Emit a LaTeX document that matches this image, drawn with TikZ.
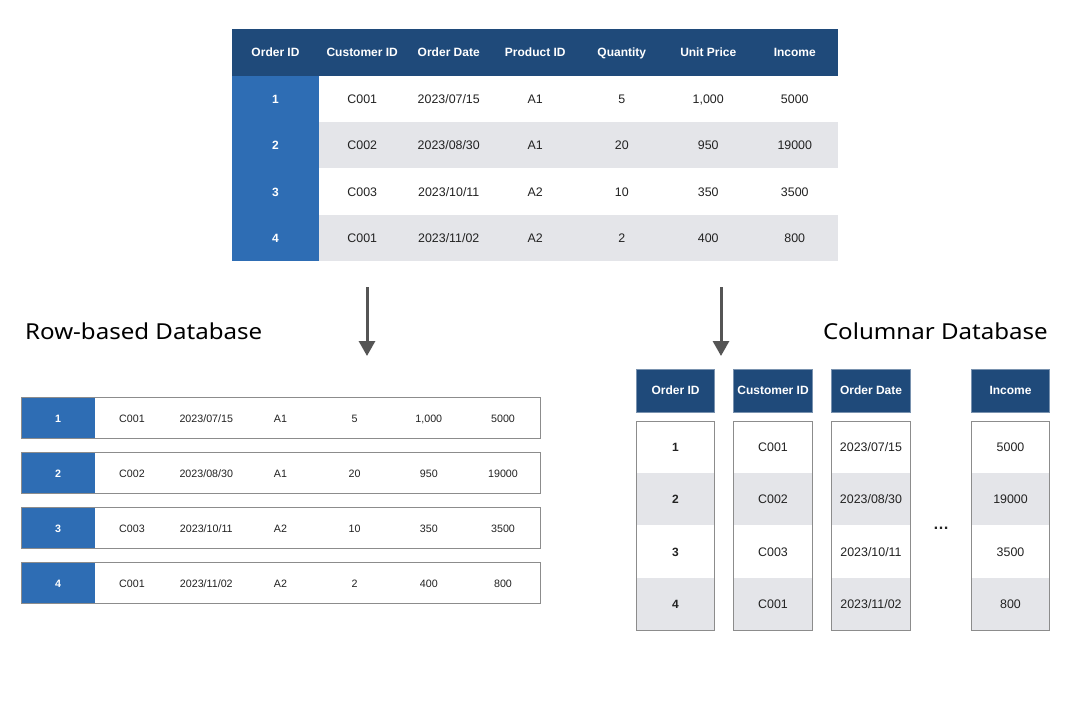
\documentclass[tikz,border=0pt]{standalone}
\usepackage{fontspec}
\setmainfont{Liberation Sans}
\newfontfamily\titlefont[FakeStretch=1.095]{Noto Sans}
\usetikzlibrary{arrows.meta}
\definecolor{hdr}{HTML}{1F4A7A}
\definecolor{idb}{HTML}{2E6DB4}
\definecolor{alt}{HTML}{E4E5E9}
\definecolor{txt}{HTML}{222222}
\definecolor{arrowc}{HTML}{555555}
\definecolor{bordc}{HTML}{8C8C8C}
\tikzset{
  fixh/.style={text height=8.8pt, text depth=0pt},
  cell/.style={minimum width=86.5pt, minimum height=46.25pt, inner sep=0pt, outer sep=0pt, text=txt, font=\fontsize{12.4}{14}\selectfont},
  hcell/.style={cell, minimum height=47pt, fill=hdr, text=white, font=\bfseries\fontsize{12}{14}\selectfont},
  idcell/.style={cell, fill=idb, text=white, font=\bfseries\fontsize{12}{14}\selectfont},
  ctext/.style={inner sep=0pt, text=txt, fixh, anchor=center},
  rbox/.style={draw=bordc, line width=0.9pt, minimum width=519pt, minimum height=41pt, inner sep=0pt, outer sep=0pt, fill=white},
  rid/.style={fill=idb, minimum width=74pt, minimum height=41pt, inner sep=0pt, outer sep=0pt},
  chdr/.style={fill=hdr, draw=hdr!60!white, line width=0.6pt, minimum width=78.5pt, minimum height=43pt, inner sep=0pt, outer sep=0pt},
  ccell/.style={minimum width=78.5pt, minimum height=52.25pt, inner sep=0pt, outer sep=0pt},
  cbox/.style={draw=bordc, line width=0.9pt, minimum width=78.5pt, minimum height=209pt, inner sep=0pt, outer sep=0pt},
  title/.style={inner sep=0pt, text=black, font=\titlefont\fontsize{22}{26}\selectfont},
  arr/.style={draw=arrowc, line width=3pt, -{Triangle[length=15pt,width=16pt]}},
  wb/.style={text=white, font=\bfseries\fontsize{12}{14}\selectfont},
  wbs/.style={text=white, font=\bfseries\fontsize{10.7}{12}\selectfont, text height=7.8pt},
  dt/.style={font=\fontsize{12.4}{14}\selectfont},
  dts/.style={font=\fontsize{10.7}{12}\selectfont, text height=7.8pt},
  db/.style={font=\bfseries\fontsize{12}{14}\selectfont},
}
% top table row: #1 id, #2 y, #3 fill, #4..#9 values
\newcommand\toprow[9]{%
  \node[idcell] (t#1c1) at (275.5,#2) {};
  \node[cell, fill=#3] (t#1c2) at (362.25,#2) {};
  \node[cell, fill=#3] (t#1c3) at (448.75,#2) {};
  \node[cell, fill=#3] (t#1c4) at (535.25,#2) {};
  \node[cell, fill=#3] (t#1c5) at (621.75,#2) {};
  \node[cell, fill=#3] (t#1c6) at (708.25,#2) {};
  \node[cell, fill=#3] (t#1c7) at (794.75,#2) {};
  \node[ctext, wb] at (t#1c1) {#1};
  \node[ctext, dt] at (t#1c2) {#4};
  \node[ctext, dt] at (t#1c3) {#5};
  \node[ctext, dt] at (t#1c4) {#6};
  \node[ctext, dt] at (t#1c5) {#7};
  \node[ctext, dt] at (t#1c6) {#8};
  \node[ctext, dt] at (t#1c7) {#9};
}
% row-based row: #1 id, #2 y, #3..#8 values
\newcommand\rbrow[8]{%
  \node[rbox] (r#1) at (280.5,#2) {};
  \node[rid] (r#1c1) at (58,#2) {};
  \node[ctext, wbs] at ([yshift=-1pt]r#1c1.center) {#1};
  \node[ctext, dts] (r#1c2) at (132,#2+1) {#3};
  \node[ctext, dts] (r#1c3) at (206.3,#2+1) {#4};
  \node[ctext, dts] (r#1c4) at (280.5,#2+1) {#5};
  \node[ctext, dts] (r#1c5) at (354.6,#2+1) {#6};
  \node[ctext, dts] (r#1c6) at (428.8,#2+1) {#7};
  \node[ctext, dts] (r#1c7) at (503,#2+1) {#8};
  \draw[draw=bordc, line width=0.9pt] (r#1.north west) rectangle (r#1.south east);
}
\begin{document}
\begin{tikzpicture}[x=1pt,y=-1pt]
\useasboundingbox[fill=white] (0,0) rectangle (1070,704);

% ---------- top table ----------
\node[hcell, minimum width=87pt] (h1) at (275.5,52.5) {};
\node[hcell] (h2) at (362.25,52.5) {};
\node[hcell] (h3) at (448.75,52.5) {};
\node[hcell] (h4) at (535.25,52.5) {};
\node[hcell] (h5) at (621.75,52.5) {};
\node[hcell] (h6) at (708.25,52.5) {};
\node[hcell] (h7) at (794.75,52.5) {};
\node[ctext, wb] at (h1) {Order ID};
\node[ctext, wb] at (h2) {Customer ID};
\node[ctext, wb] at (h3) {Order Date};
\node[ctext, wb] at (h4) {Product ID};
\node[ctext, wb] at (h5) {Quantity};
\node[ctext, wb] at (h6) {Unit Price};
\node[ctext, wb] at (h7) {Income};
\toprow{1}{99.1}{white}{C001}{2023/07/15}{A1}{5}{1,000}{5000}
\toprow{2}{145.4}{alt}{C002}{2023/08/30}{A1}{20}{950}{19000}
\toprow{3}{191.6}{white}{C003}{2023/10/11}{A2}{10}{350}{3500}
\toprow{4}{237.9}{alt}{C001}{2023/11/02}{A2}{2}{400}{800}

% ---------- arrows ----------
\coordinate (aL1) at (367,287);
\coordinate (aL2) at (367,356);
\coordinate (aR1) at (721,287);
\coordinate (aR2) at (721,356);
\draw[arr] (aL1) -- (aL2);
\draw[arr] (aR1) -- (aR2);

% ---------- titles ----------
\node[title, anchor=west] (tRow) at (25,331) {Row-based Database};
\node[title, anchor=east] (tCol) at (1048,331) {Columnar Database};

% ---------- row-based ----------
\rbrow{1}{418}{C001}{2023/07/15}{A1}{5}{1,000}{5000}
\rbrow{2}{472.5}{C002}{2023/08/30}{A1}{20}{950}{19000}
\rbrow{3}{527.5}{C003}{2023/10/11}{A2}{10}{350}{3500}
\rbrow{4}{582.5}{C001}{2023/11/02}{A2}{2}{400}{800}

% ---------- columnar ----------
\node[chdr] (cH1) at (675.5,390.5) {};
\node[chdr] (cH2) at (773,390.5) {};
\node[chdr] (cH3) at (871,390.5) {};
\node[chdr] (cH4) at (1010.5,390.5) {};
\node[ctext, wb] at (cH1) {Order ID};
\node[ctext, wb] at (cH2) {Customer ID};
\node[ctext, wb] at (cH3) {Order Date};
\node[ctext, wb] at (cH4) {Income};

\foreach \cx/\nm in {675.5/1, 773/2, 871/3, 1010.5/4}{
  \node[ccell, fill=white] (c\nm r1) at (\cx,447.1) {};
  \node[ccell, fill=alt]   (c\nm r2) at (\cx,499.4) {};
  \node[ccell, fill=white] (c\nm r3) at (\cx,551.6) {};
  \node[ccell, fill=alt]   (c\nm r4) at (\cx,603.9) {};
  \node[cbox] (cB\nm) at (\cx,525.5) {};
}
\node[ctext, db] (v11) at (c1r1) {1};
\node[ctext, db] (v12) at (c1r2) {2};
\node[ctext, db] (v13) at (c1r3) {3};
\node[ctext, db] (v14) at (c1r4) {4};
\node[ctext, dt] (v21) at (c2r1) {C001};
\node[ctext, dt] (v22) at (c2r2) {C002};
\node[ctext, dt] (v23) at (c2r3) {C003};
\node[ctext, dt] (v24) at (c2r4) {C001};
\node[ctext, dt] (v31) at (c3r1) {2023/07/15};
\node[ctext, dt] (v32) at (c3r2) {2023/08/30};
\node[ctext, dt] (v33) at (c3r3) {2023/10/11};
\node[ctext, dt] (v34) at (c3r4) {2023/11/02};
\node[ctext, dt] (v41) at (c4r1) {5000};
\node[ctext, dt] (v42) at (c4r2) {19000};
\node[ctext, dt] (v43) at (c4r3) {3500};
\node[ctext, dt] (v44) at (c4r4) {800};
\node[inner sep=0pt, text=txt, font=\bfseries\fontsize{16}{18}\selectfont] (dots) at (941,528) {…};
\end{tikzpicture}
\end{document}
